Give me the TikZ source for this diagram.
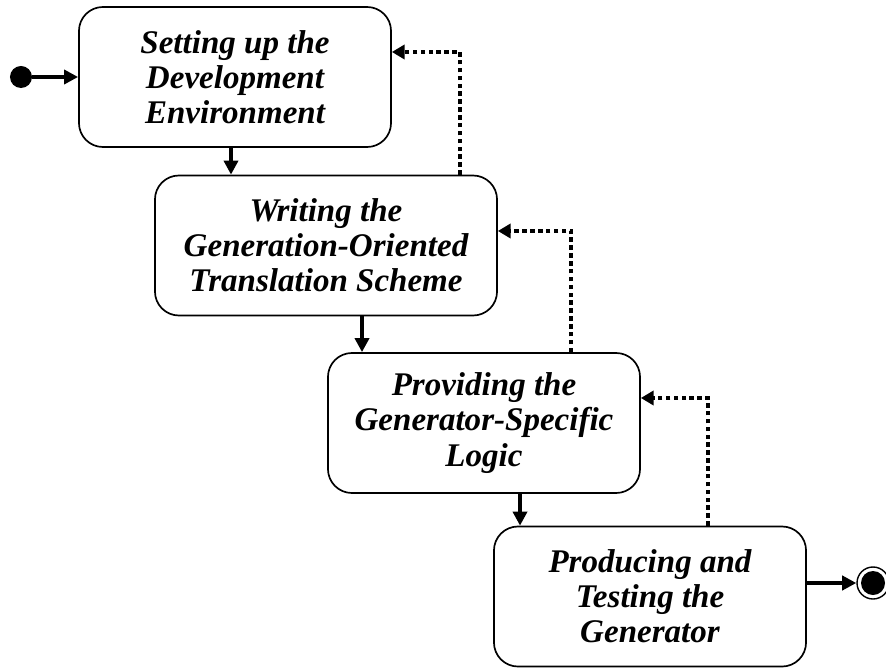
\documentclass[tikz,border=0pt]{standalone}
\usepackage{fontspec}
\setmainfont{Liberation Serif}
\usetikzlibrary{positioning, arrows.meta}

\begin{document}
\begin{tikzpicture}[x=0.025cm, y=-0.025cm,
  stepbox/.style={draw, line width=1.2pt, rounded corners=0.6cm, align=center,
              minimum width=7.8cm, minimum height=3.5cm, inner sep=0pt,
              font=\fontsize{23.5}{25}\selectfont\bfseries\itshape},
  flow/.style={-{Triangle[length=10pt, width=10pt]}, line width=2.6pt},
  back/.style={-{Triangle[length=9pt, width=10pt]}, line width=3.2pt,
              dash pattern=on 3.2pt off 2.4pt},
  initial/.style={circle, fill, minimum size=0.55cm, inner sep=0pt},
  final/.style={circle, draw, line width=1pt, minimum size=0.8cm, inner sep=0pt,
              path picture={\fill[black] (path picture bounding box.center) circle (0.3cm);}}]
  \useasboundingbox (0,0) rectangle (886,669);
  \node[stepbox] (setup) at (235,77) {Setting up the\\Development\\Environment};
  \node[stepbox, minimum width=8.55cm] (scheme) at (326,245.5) {Writing the\\Generation-Oriented\\Translation Scheme};
  \node[stepbox] (logic) at (484,423) {Providing the\\Generator-Specific\\Logic};
  \node[stepbox] (gen) at (650,596.5) {Producing and\\Testing the\\Generator};
  \node[initial] (start) at (21,77) {};
  \node[final] (stop) at (873,583) {};
  % forward steps
  \draw[flow, line width=3pt] (start) -- (setup);
  \draw[flow] ([xshift=-0.1cm]setup.south) -- ([xshift=-0.1cm]setup.south |- scheme.north);
  \draw[flow] ([xshift=0.9cm]scheme.south) -- ([xshift=0.9cm]scheme.south |- logic.north);
  \draw[flow] ([xshift=0.9cm]logic.south) -- ([xshift=0.9cm]logic.south |- gen.north);
  \draw[flow, line width=3pt] (gen.east |- stop) -- (stop);
  % iterations
  \draw[back] ([xshift=3.35cm]scheme.north) |- ([yshift=0.625cm]setup.east);
  \draw[back] ([xshift=2.175cm]logic.north) |- ([yshift=0.3625cm]scheme.east);
  \draw[back] ([xshift=1.45cm]gen.north) |- ([yshift=0.625cm]logic.east);
\end{tikzpicture}
\end{document}
